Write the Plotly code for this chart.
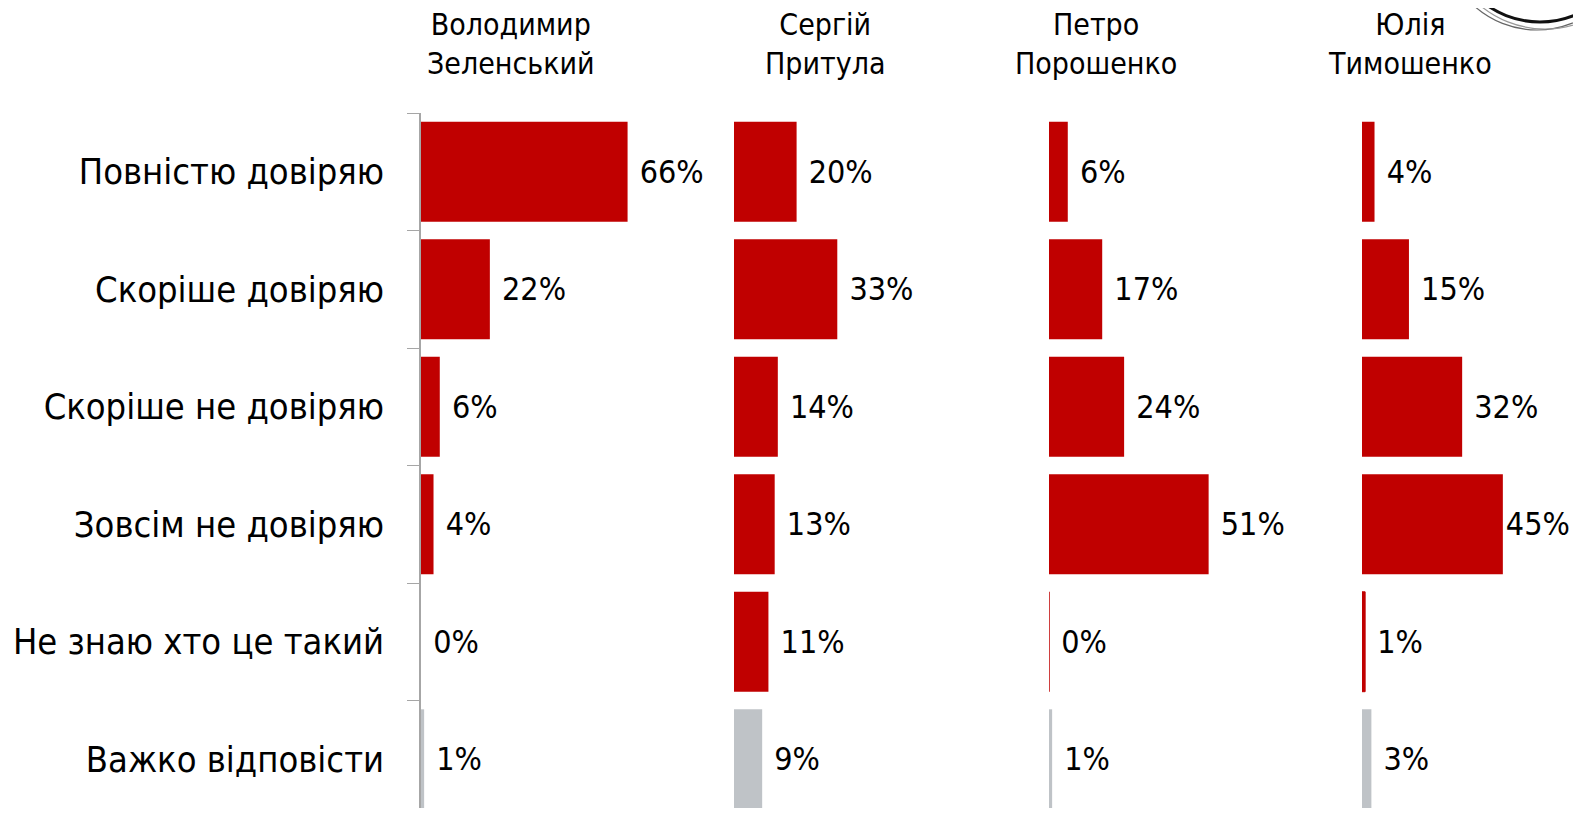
import plotly.graph_objects as go

categories = ["Повністю довіряю", "Скоріше довіряю", "Скоріше не довіряю",
              "Зовсім не довіряю", "Не знаю хто це такий", "Важко відповісти"]
politicians = ["Володимир<br>Зеленський", "Сергій<br>Притула", "Петро<br>Порошенко", "Юлія<br>Тимошенко"]
zelensky = [66, 22, 6, 4, 0, 1]
prytula = [20, 33, 14, 13, 11, 9]
poroshenko = [6, 17, 24, 51, 0, 1]
tymoshenko = [4, 15, 32, 45, 1, 3]
series = [zelensky, prytula, poroshenko, tymoshenko]

# page has an 8px body margin, so the figure is placed at (8, 8)
OFF = 8
W, H = 1581 - 2 * OFF, 816 - 2 * OFF
TOP = 113 - OFF
PLOT_H = H - TOP
BAND = 117.5
FONT = "DejaVu Sans Condensed, DejaVu Sans, sans-serif"
RED = "#C00000"
GREY = "#BFC3C7"
colors = [RED, RED, RED, RED, RED, GREY]

starts = [s - OFF for s in [421, 734, 1049, 1362]]
panel_w = 209
xrange_max = panel_w / 3.13

fig = go.Figure()
for i, vals in enumerate(series):
    xa = "x" if i == 0 else f"x{i+1}"
    lw = [1 if (v == 0 and i > 0) or (0 < v < 2) else 0 for v in vals]
    lw = [w if colors[k] == RED else 0 for k, w in enumerate(lw)]
    # the last panel's longest label sits against the right edge: no lead space
    texts = [("" if (i == 3 and v > 40) else " ") + f"{v}%" for v in vals]
    fig.add_trace(go.Bar(
        x=vals, y=categories, orientation="h", xaxis=xa, yaxis="y",
        marker=dict(color=colors, line=dict(color=RED, width=lw)),
        width=0.85,
        text=texts, textposition="outside",
        textfont=dict(family=FONT, size=32, color="black"),
        cliponaxis=False, showlegend=False, hoverinfo="skip",
    ))

layout = dict(
    width=W, height=H,
    margin=dict(l=0, r=0, t=TOP, b=0),
    paper_bgcolor="white", plot_bgcolor="white",
    font=dict(family=FONT, size=30, color="black"),
    yaxis=dict(
        type="category", categoryorder="array", categoryarray=categories,
        range=[-0.5 + PLOT_H / BAND, -0.5], anchor="x",
        showline=True, linecolor="#A6A6A6", linewidth=1.5,
        ticks="outside", tickson="boundaries", ticklen=12, tickcolor="#A6A6A6",
        tickfont=dict(family=FONT, size=36, color="black"),
        ticklabelstandoff=28,
        showgrid=False, zeroline=False,
    ),
)
for i, s in enumerate(starts):
    key = "xaxis" if i == 0 else f"xaxis{i+1}"
    layout[key] = dict(
        domain=[s / W, min(1.0, (s + panel_w) / W)], range=[0, xrange_max],
        visible=False, anchor="y", fixedrange=True,
    )
fig.update_layout(**layout)

header_x = [h - OFF for h in [511, 825, 1096, 1410]]
for name, hx in zip(politicians, header_x):
    fig.add_annotation(
        text=name, x=hx / W, y=(H - (44 - OFF)) / PLOT_H, xref="paper", yref="paper",
        xanchor="center", yanchor="middle", showarrow=False, align="center",
        font=dict(family=FONT, size=30, color="black"),
    )

# decorative logo arcs at top-right
def circ(cx, cy, r, color, w):
    cx -= OFF
    cy -= OFF
    fig.add_shape(type="circle", xref="paper", yref="paper",
                  x0=(cx - r) / W, x1=(cx + r) / W,
                  y0=(H - (cy + r)) / PLOT_H, y1=(H - (cy - r)) / PLOT_H,
                  line=dict(color=color, width=w), fillcolor="rgba(0,0,0,0)")

circ(1540, -70, 92, "#111111", 3)
circ(1537, -64, 94, "#666666", 1.2)
circ(1545, -72, 101, "#999999", 1.2)

fig.write_html("out.html")
